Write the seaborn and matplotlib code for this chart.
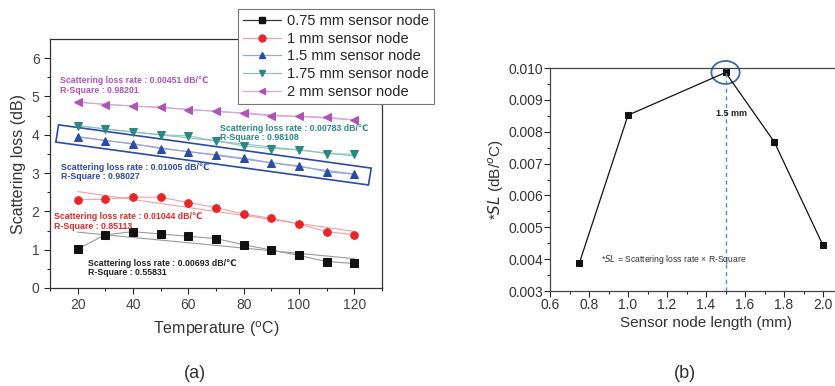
import numpy as np
import pandas as pd
import matplotlib
matplotlib.use("Agg")
import matplotlib.pyplot as plt
from matplotlib.patches import Polygon, Ellipse
from matplotlib.lines import Line2D
import seaborn as sns

# ---- data (a) ----
temps = [20, 30, 40, 50, 60, 70, 80, 90, 100, 110, 120]
node_labels = ["0.75 mm sensor node", "1 mm sensor node", "1.5 mm sensor node",
               "1.75 mm sensor node", "2 mm sensor node"]
loss_075 = [1.02, 1.39, 1.47, 1.41, 1.35, 1.29, 1.13, 0.99, 0.85, 0.69, 0.64]
loss_100 = [2.30, 2.32, 2.37, 2.37, 2.23, 2.10, 1.93, 1.82, 1.67, 1.47, 1.39]
loss_150 = [3.94, 3.85, 3.77, 3.64, 3.56, 3.48, 3.39, 3.27, 3.19, 3.03, 2.97]
loss_175 = [4.24, 4.15, 4.07, 4.00, 3.97, 3.84, 3.71, 3.64, 3.61, 3.51, 3.49]
loss_200 = [4.86, 4.79, 4.75, 4.72, 4.66, 4.61, 4.56, 4.49, 4.48, 4.46, 4.39]
rates = ["0.00693", "0.01044", "0.01005", "0.00783", "0.00451"]
rsq = ["0.55831", "0.85113", "0.98027", "0.98108", "0.98201"]

# ---- data (b) ----
node_len = [0.75, 1.0, 1.5, 1.75, 2.0]
sl_vals = [0.00387, 0.00852, 0.00986, 0.00768, 0.00443]

sns.set_style("ticks")
plt.rcParams['font.family'] = ['Liberation Sans', 'DejaVu Sans']

fig = plt.figure(figsize=(8.35, 3.86), dpi=100)
ax1 = fig.add_axes([0.0599, 0.2539, 0.3976, 0.645])
ax2 = fig.add_axes([0.6587, 0.2461, 0.3737, 0.5777])
ax1.set_facecolor("white")
ax2.set_facecolor("white")

series = [loss_075, loss_100, loss_150, loss_175, loss_200]
dark = ["#111111", "#e8262a", "#2c4aa8", "#2a8a82", "#b052b8"]
pale = ["#9a9a9a", "#f0a0a4", "#9aa6d6", "#8cc4bd", "#d9a6dc"]
marks = ["s", "o", "^", "v", "<"]

handles = []
for vals, lab, dc, pc, mk in zip(series, node_labels, dark, pale, marks):
    sns.regplot(x=np.array(temps), y=np.array(vals), ax=ax1, scatter=False, ci=None,
                truncate=True, line_kws=dict(color=pc, lw=0.8))
    sns.lineplot(x=temps, y=vals, ax=ax1, color=pc, lw=0.8, marker=mk,
                 markersize=5.5, markerfacecolor=dc, markeredgecolor=dc)
    handles.append(Line2D([], [], color=pc if dc != "#111111" else "#333333", lw=0.9,
                          marker=mk, markersize=5, markerfacecolor=dc, markeredgecolor=dc))

ax1.set_xlim(10, 130)
ax1.set_ylim(0, 6.5)
ax1.set_xticks([20, 40, 60, 80, 100, 120])
ax1.set_xticks(range(10, 131, 10), minor=True)
ax1.set_yticks(range(0, 7))
ax1.set_yticks(np.arange(0.5, 6.5, 1), minor=True)
ax1.tick_params(labelsize=10, labelcolor="#444444", length=4, width=0.8)
ax1.tick_params(which="minor", length=2.5, width=0.8)
ax1.set_xlabel("Temperature ($^{\\mathrm{o}}$C)", fontsize=11.5, color="#333333", labelpad=5)
ax1.set_ylabel("Scattering loss (dB)", fontsize=11.5, color="#333333")
for s in ax1.spines.values():
    s.set_linewidth(0.9)
    s.set_color("#333333")

# annotations (baseline positions in data units)
ann = [(23.9, 0.58, 0), (11.3, 1.80, 1), (13.9, 3.09, 2), (71.6, 4.11, 3), (13.6, 5.35, 4)]
for x0, y0, i in ann:
    col = dark[i] if i else "#222222"
    ax1.text(x0, y0, "Scattering loss rate : %s dB/\u2103" % rates[i], color=col,
             fontsize=6.3, fontweight="bold")
    ax1.text(x0, y0 - 0.25, "R-Square : %s" % rsq[i], color=col,
             fontsize=6.3, fontweight="bold")

box = Polygon([[13.1, 4.26], [126.1, 3.13], [125.1, 2.69], [12.1, 3.81]], closed=True,
              fill=False, edgecolor="#2c4aa8", lw=1.2, clip_on=False)
ax1.add_patch(box)

leg = fig.legend(handles, node_labels, loc="upper left", bbox_to_anchor=(238 / 835, 1 - 9 / 386),
                 fontsize=10.5, frameon=True, fancybox=False, handlelength=2.6,
                 borderpad=0.35, labelspacing=0.25, handletextpad=0.4, borderaxespad=0)
leg.get_frame().set_edgecolor("#777777")
leg.get_frame().set_linewidth(0.8)
leg.get_frame().set_alpha(1)

# ---- (b) ----
sns.lineplot(x=node_len, y=sl_vals, ax=ax2, color="#111111", lw=0.9, marker="s",
             markersize=5, markerfacecolor="#111111", markeredgecolor="#111111")
ax2.set_xlim(0.6, 2.2)
ax2.set_ylim(0.003, 0.010)
ax2.set_xticks(np.arange(0.6, 2.01, 0.2))
ax2.set_xticklabels(["0.6", "0.8", "1.0", "1.2", "1.4", "1.6", "1.8", "2.0"])
ax2.set_xticks(np.arange(0.7, 2.2, 0.2), minor=True)
ax2.set_yticks(np.arange(0.003, 0.0101, 0.001))
ax2.set_yticklabels(["0.003", "0.004", "0.005", "0.006", "0.007", "0.008", "0.009", "0.010"])
ax2.set_yticks(np.arange(0.0035, 0.0100, 0.001), minor=True)
ax2.tick_params(labelsize=10, labelcolor="#333333", length=4, width=0.8, pad=1)
ax2.tick_params(which="minor", length=2.5, width=0.8)
ax2.axvline(1.5, color="#4a8fd6", lw=1.0, ls=(0, (3, 2.5)))
ax2.add_patch(Ellipse((1.5, 0.00986), 0.145, 0.00072, fill=False, edgecolor="#3a6aa8", lw=1.3,
                      clip_on=False))
ax2.text(1.53, 0.0085, "1.5 mm", fontsize=6.5, fontweight="bold", color="#222222", ha="center")
ax2.text(0.86, 0.00392, "*$\\mathit{SL}$ = Scattering loss rate \u00d7 R-Square", fontsize=6.2,
         color="#333333")
ax2.set_xlabel("Sensor node length (mm)", fontsize=11, color="#333333", labelpad=3)
ax2.set_ylabel("*$\\mathit{SL}$ (dB/$^{o}$C)", fontsize=11, color="#333333", labelpad=2)
for s in ax2.spines.values():
    s.set_linewidth(0.9)
    s.set_color("#444444")

fig.text(195 / 835, 1 - 373 / 386, "(a)", fontsize=13, ha="center", va="center", color="#333333")
fig.text(685 / 835, 1 - 373 / 386, "(b)", fontsize=13, ha="center", va="center", color="#333333")

fig.savefig("out.png", dpi=100)
